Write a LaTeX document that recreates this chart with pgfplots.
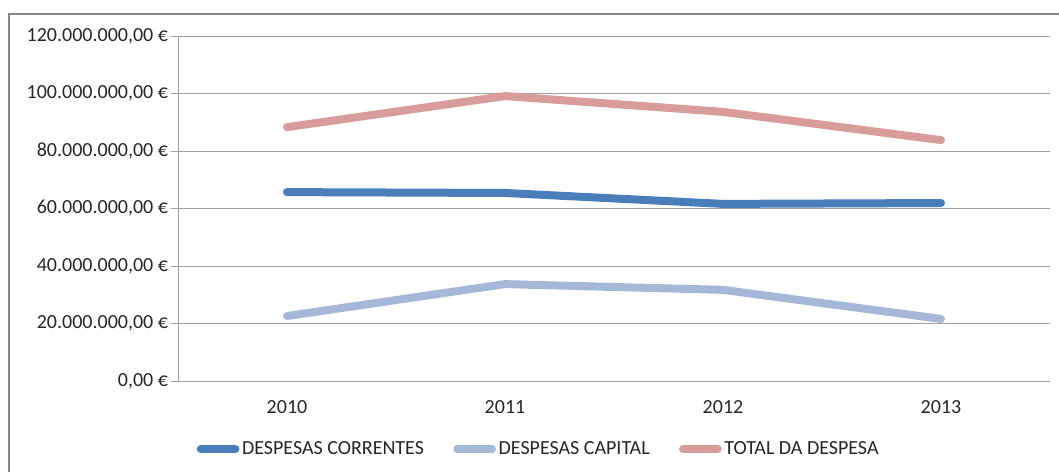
\documentclass[border=0pt]{standalone}
\usepackage{pgfplots}
\pgfplotsset{compat=1.18}
\usepackage{fontspec}
\setmainfont{Carlito}

\definecolor{correntes}{HTML}{4A7EBB}
\definecolor{capital}{HTML}{A5B8D8}
\definecolor{total}{HTML}{D89C9A}
\definecolor{gridgray}{HTML}{A0A0A0}
\definecolor{framegray}{HTML}{868686}

\begin{document}
\begin{tikzpicture}[x=0.75pt,y=0.75pt]
\useasboundingbox (0,0) rectangle (1059,471);
% outer chart frame (only left and top edge visible)
\draw[framegray, line width=1.5pt] (9,-10) -- (9,457) -- (1070,457);

\begin{axis}[
    at={(133.5pt,67.5pt)}, anchor=south west,
    scale only axis,
    width=654pt, height=258.75pt,
    axis x line=bottom, axis y line=left,
    axis line style={gridgray, -},
    xmin=-0.5, xmax=3.5,
    ymin=0, ymax=120000000,
    xtick={0,1,2,3},
    xticklabels={2010,2011,2012,2013},
    minor xtick={-0.5,0.5,1.5,2.5,3.5},
    ytick={0,20000000,40000000,60000000,80000000,100000000,120000000},
    yticklabels={{0,00 €},{20.000.000,00 €},{40.000.000,00 €},{60.000.000,00 €},{80.000.000,00 €},{100.000.000,00 €},{120.000.000,00 €}},
    scaled y ticks=false,
    tick align=outside,
    major tick length=5pt, minor tick length=5pt,
    xtick style={draw=none},
    minor x tick style={gridgray},
    ytick style={gridgray},
    ymajorgrids,
    grid style={gridgray, line width=0.6pt},
    ticklabel style={font=\fontsize{15}{18}\selectfont, text=black!85},
    yticklabel style={xshift=1pt},
    xticklabel style={yshift=-6pt},
    legend style={at={(0.414,-0.197)}, anchor=center, draw=none, fill=none,
      font=\fontsize{15}{18}\selectfont, text=black!85,
      legend columns=3,
      /tikz/every even column/.append style={column sep=20pt},
      inner sep=0pt},
    legend image code/.code={\draw[#1, line cap=round] (3pt,0pt) -- (29pt,0pt);},
    every axis plot/.append style={line width=6pt, line cap=round, line join=round},
  ]
  \addplot[correntes] coordinates {(0,65700000) (1,65400000) (2,61600000) (3,61900000)};
  \addplot[capital] coordinates {(0,22600000) (1,33700000) (2,31700000) (3,21600000)};
  \addplot[total] coordinates {(0,88300000) (1,99100000) (2,93600000) (3,83800000)};
  \legend{DESPESAS CORRENTES, DESPESAS CAPITAL, TOTAL DA DESPESA}
\end{axis}
\end{tikzpicture}
\end{document}
